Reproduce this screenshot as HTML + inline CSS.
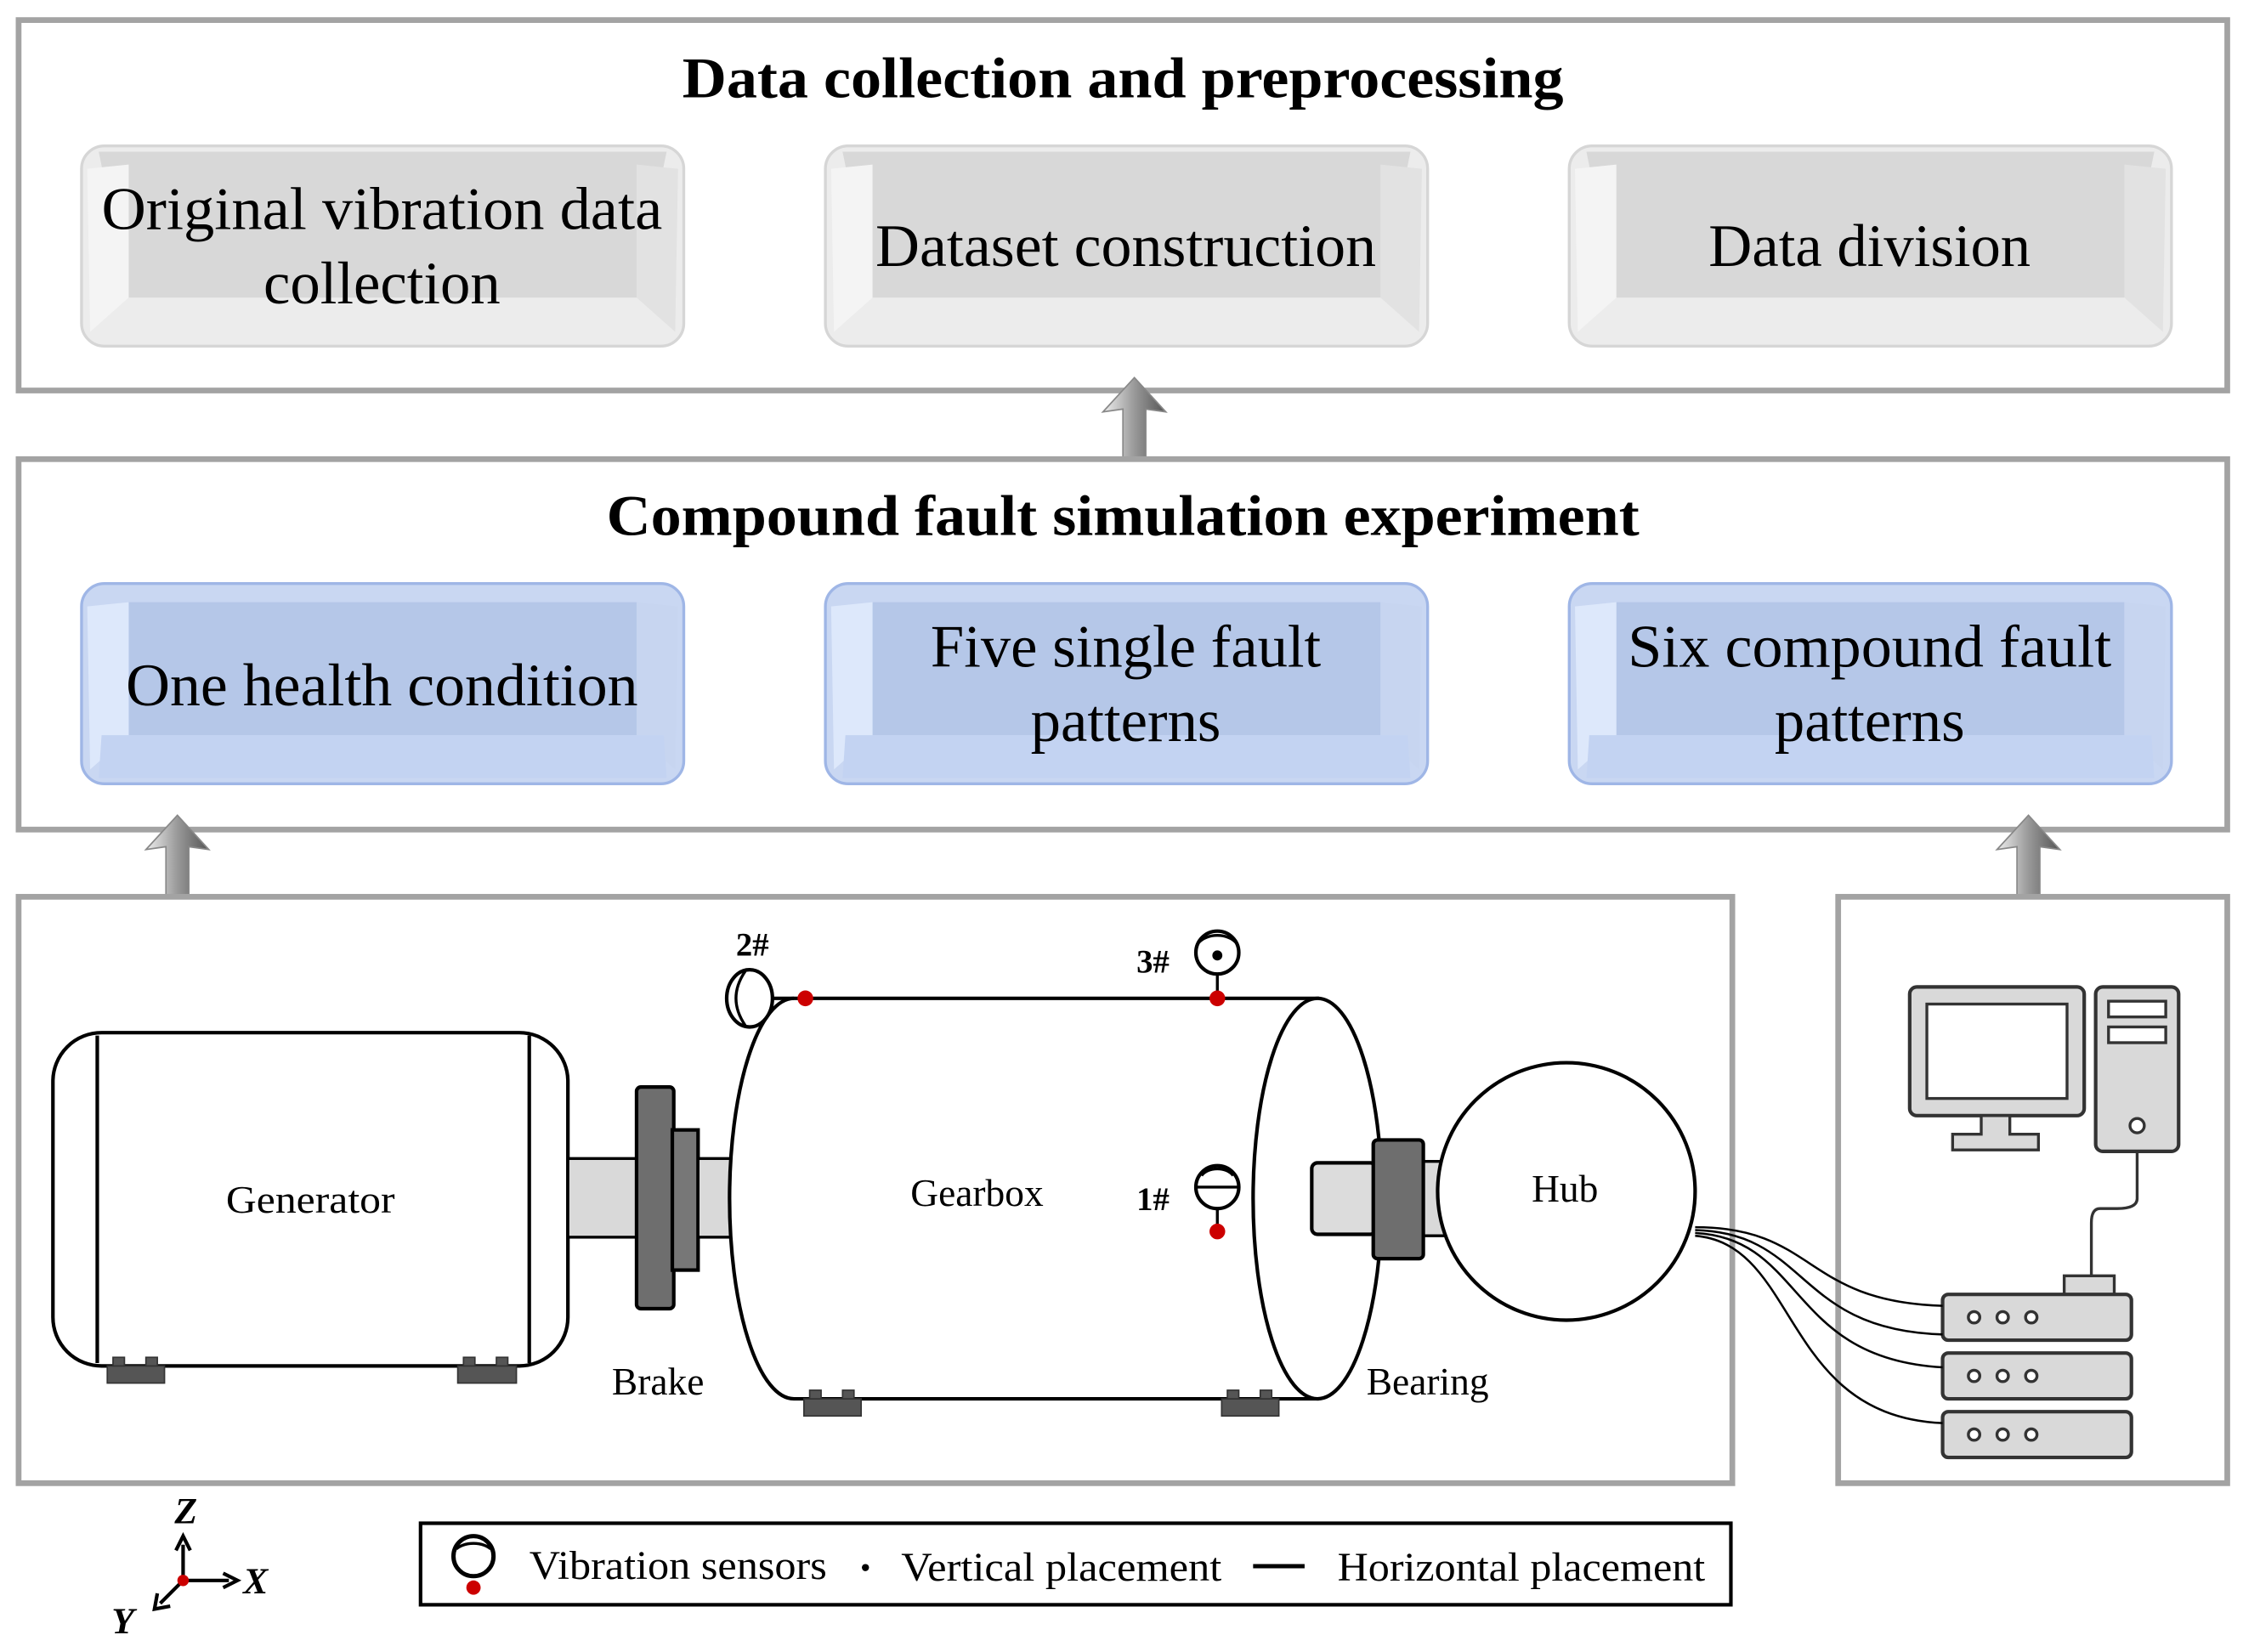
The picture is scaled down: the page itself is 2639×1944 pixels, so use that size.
<!DOCTYPE html>
<html><head><meta charset="utf-8"><style>html,body{margin:0;padding:0;background:#fff}svg{display:block}</style></head><body>
<svg width="2639" height="1944" viewBox="0 0 1568 1155" xmlns="http://www.w3.org/2000/svg" font-family="Liberation Serif, serif">
<defs>
<linearGradient id="ag" x1="0" x2="1"><stop offset="0" stop-color="#eee"/><stop offset="0.5" stop-color="#999"/><stop offset="1" stop-color="#555"/></linearGradient>
<g id="arr"><path d="M0,-32 L22,-8 L8,-10 L8,30 L-8,30 L-8,-10 L-22,-8 Z" fill="url(#ag)" stroke="#888" stroke-width="1"/></g>
<g id="gbox"><rect x="0" y="0" width="421" height="140" rx="16" fill="#ececec" stroke="#d6d6d6" stroke-width="2"/><path d="M12,4 L409,4 L388,106 L33,106 Z" fill="#d8d8d8"/><path d="M4,16 L33,13 L33,106 L6,130 Z" fill="#f4f4f4"/><path d="M417,16 L388,13 L388,106 L415,130 Z" fill="#e2e2e2"/><rect x="33" y="13" width="355" height="93" fill="#d8d8d8"/></g>
<g id="bbox"><rect x="0" y="0" width="421" height="140" rx="16" fill="#c9d7f2" stroke="#9fb6e6" stroke-width="2"/><path d="M4,16 L33,13 L33,106 L6,130 Z" fill="#dde8fb"/><path d="M417,16 L388,13 L388,106 L415,130 Z" fill="#c7d5f0"/><rect x="33" y="13" width="355" height="93" fill="#b5c7e8"/><path d="M14,106 L407,106 L409,136 L12,136 Z" fill="#c3d3f2"/></g>
</defs>
<rect x="13" y="14" width="1544" height="259" fill="#fff" stroke="#a3a3a3" stroke-width="4"/>
<text x="785" y="68" font-size="40" font-weight="bold" text-anchor="middle" textLength="616" lengthAdjust="spacingAndGlyphs">Data collection and preprocessing</text>
<use href="#gbox" x="57" y="102"/><use href="#gbox" x="577" y="102"/><use href="#gbox" x="1097" y="102"/>
<g font-size="42" text-anchor="middle">
<text x="267" y="160" textLength="392" lengthAdjust="spacingAndGlyphs">Original vibration data</text>
<text x="267" y="212">collection</text>
<text x="787" y="186" textLength="350" lengthAdjust="spacingAndGlyphs">Dataset construction</text>
<text x="1307" y="186">Data division</text>
</g>
<use href="#arr" x="793" y="296"/>
<rect x="13" y="321" width="1544" height="259" fill="#fff" stroke="#a3a3a3" stroke-width="4"/>
<text x="785" y="374" font-size="40" font-weight="bold" text-anchor="middle" textLength="722" lengthAdjust="spacingAndGlyphs">Compound fault simulation experiment</text>
<use href="#bbox" x="57" y="408"/><use href="#bbox" x="577" y="408"/><use href="#bbox" x="1097" y="408"/>
<g font-size="42" text-anchor="middle">
<text x="267" y="493" textLength="358" lengthAdjust="spacingAndGlyphs">One health condition</text>
<text x="787" y="466">Five single fault</text>
<text x="787" y="518">patterns</text>
<text x="1307" y="466" textLength="338" lengthAdjust="spacingAndGlyphs">Six compound fault</text>
<text x="1307" y="518">patterns</text>
</g>
<use href="#arr" x="124" y="602"/><use href="#arr" x="1418" y="602"/>
<rect x="13" y="627" width="1198" height="410" fill="#fff" stroke="#a3a3a3" stroke-width="4"/>
<rect x="1285" y="627" width="272" height="410" fill="#fff" stroke="#a3a3a3" stroke-width="4"/>
<rect x="37" y="722" width="360" height="233" rx="34" fill="#fff" stroke="#000" stroke-width="2.5"/>
<line x1="68" y1="724" x2="68" y2="953" stroke="#000" stroke-width="2.5"/><line x1="370" y1="724" x2="370" y2="953" stroke="#000" stroke-width="2.5"/>
<g fill="#555" stroke="#333"><rect x="75" y="955" width="40" height="12"/><rect x="79" y="949" width="8" height="6"/><rect x="102" y="949" width="8" height="6"/><rect x="320" y="955" width="41" height="12"/><rect x="324" y="949" width="8" height="6"/><rect x="347" y="949" width="8" height="6"/></g>
<text x="217" y="848" font-size="27" text-anchor="middle" textLength="118" lengthAdjust="spacingAndGlyphs">Generator</text>
<rect x="397" y="810" width="50" height="55" fill="#d9d9d9" stroke="#000" stroke-width="2"/>
<rect x="445" y="760" width="26" height="155" rx="3" fill="#6e6e6e" stroke="#000" stroke-width="2.5"/>
<rect x="470" y="790" width="18" height="98" fill="#777" stroke="#000" stroke-width="2.5"/>
<rect x="488" y="810" width="26" height="55" fill="#d9d9d9" stroke="#000" stroke-width="2"/>
<text x="460" y="975" font-size="27" text-anchor="middle">Brake</text>
<rect x="995" y="812" width="18" height="52" fill="#d9d9d9" stroke="#000" stroke-width="2"/>
<path d="M555,698 L921,698 L921,978 L555,978 A45,140 0 0 1 555,698 Z" fill="#fff" stroke="#000" stroke-width="2.5"/>
<ellipse cx="921" cy="838" rx="45" ry="140" fill="#fff" stroke="#000" stroke-width="2.5"/>
<rect x="917" y="813" width="45" height="50" rx="4" fill="#dcdcdc" stroke="#000" stroke-width="2.5"/>
<rect x="960" y="797" width="35" height="83" rx="3" fill="#6e6e6e" stroke="#000" stroke-width="2.5"/>
<g fill="#555" stroke="#333"><rect x="562" y="978" width="40" height="12"/><rect x="566" y="972" width="8" height="6"/><rect x="589" y="972" width="8" height="6"/><rect x="854" y="978" width="40" height="12"/><rect x="858" y="972" width="8" height="6"/><rect x="881" y="972" width="8" height="6"/></g>
<text x="683" y="843" font-size="27" text-anchor="middle">Gearbox</text>
<text x="998" y="975" font-size="27" text-anchor="middle">Bearing</text>
<circle cx="1095" cy="833" r="90" fill="#fff" stroke="#000" stroke-width="2.5"/>
<text x="1094" y="840" font-size="27" text-anchor="middle">Hub</text>
<line x1="540" y1="698" x2="555" y2="698" stroke="#000" stroke-width="2.5"/>
<ellipse cx="524" cy="698" rx="16" ry="20" fill="#fff" stroke="#000" stroke-width="2.5"/>
<path d="M521,679 Q508,698 521,717" fill="none" stroke="#000" stroke-width="2"/>
<circle cx="563" cy="698" r="5.5" fill="#c00"/>
<circle cx="851" cy="666" r="15" fill="#fff" stroke="#000" stroke-width="2.5"/>
<path d="M838,659 A15,10 0 0 1 864,659" fill="none" stroke="#000" stroke-width="2"/>
<circle cx="851" cy="668" r="3.5"/>
<line x1="851" y1="681" x2="851" y2="698" stroke="#000" stroke-width="2"/>
<circle cx="851" cy="698" r="5.5" fill="#c00"/>
<circle cx="851" cy="830" r="15" fill="#fff" stroke="#000" stroke-width="2.5"/>
<line x1="836" y1="830" x2="866" y2="830" stroke="#000" stroke-width="2"/>
<path d="M840,822 A12,8 0 0 1 862,822" fill="none" stroke="#000" stroke-width="2"/>
<line x1="851" y1="845" x2="851" y2="860" stroke="#000" stroke-width="2"/>
<circle cx="851" cy="861" r="5.5" fill="#c00"/>
<g font-size="23" font-weight="bold" text-anchor="middle"><text x="526" y="668">2#</text><text x="806" y="680">3#</text><text x="806" y="846">1#</text></g>
<rect x="1335" y="690" width="122" height="90" rx="5" fill="#d9d9d9" stroke="#333" stroke-width="2.5"/>
<rect x="1347" y="702" width="98" height="66" fill="#fff" stroke="#333" stroke-width="2"/>
<path d="M1385,780 L1405,780 L1405,793 L1425,793 L1425,804 L1365,804 L1365,793 L1385,793 Z" fill="#d9d9d9" stroke="#333" stroke-width="2"/>
<rect x="1465" y="690" width="58" height="115" rx="5" fill="#d9d9d9" stroke="#333" stroke-width="2.5"/>
<rect x="1474" y="700" width="40" height="11" fill="#fff" stroke="#333" stroke-width="2"/>
<rect x="1474" y="718" width="40" height="11" fill="#fff" stroke="#333" stroke-width="2"/>
<circle cx="1494" cy="787" r="5" fill="#fff" stroke="#333" stroke-width="2"/>
<path d="M1494,805 L1494,838 Q1494,845 1480,845 L1468,845 Q1462,845 1462,855 L1462,892" fill="none" stroke="#333" stroke-width="2"/>
<rect x="1443" y="892" width="35" height="13" fill="#d9d9d9" stroke="#333" stroke-width="2"/>
<g fill="#d9d9d9" stroke="#333" stroke-width="2.5">
<rect x="1358" y="905" width="132" height="32" rx="4"/><rect x="1358" y="946" width="132" height="32" rx="4"/><rect x="1358" y="987" width="132" height="32" rx="4"/></g>
<g fill="#fff" stroke="#333" stroke-width="2"><circle cx="1380" cy="921" r="4"/><circle cx="1400" cy="921" r="4"/><circle cx="1420" cy="921" r="4"/><circle cx="1380" cy="962" r="4"/><circle cx="1400" cy="962" r="4"/><circle cx="1420" cy="962" r="4"/><circle cx="1380" cy="1003" r="4"/><circle cx="1400" cy="1003" r="4"/><circle cx="1420" cy="1003" r="4"/></g>
<g fill="none" stroke="#000" stroke-width="1.5">
<path d="M1185,858 C1270,858 1260,910 1358,913"/>
<path d="M1185,860 C1265,862 1255,930 1358,933"/>
<path d="M1185,862 C1262,866 1250,950 1358,956"/>
<path d="M1185,864 C1258,870 1245,990 1358,995"/>
</g>
<rect x="294" y="1065" width="916" height="57" fill="#fff" stroke="#000" stroke-width="2.5"/>
<circle cx="331" cy="1088" r="14" fill="#fff" stroke="#000" stroke-width="3"/>
<path d="M319,1083 A14,8 0 0 1 343,1083" fill="none" stroke="#000" stroke-width="2"/>
<circle cx="331" cy="1110" r="5" fill="#c00"/>
<g font-size="28"><text x="370" y="1104" textLength="208" lengthAdjust="spacingAndGlyphs">Vibration sensors</text><text x="630" y="1105" textLength="224" lengthAdjust="spacingAndGlyphs">Vertical placement</text><text x="935" y="1105" textLength="257" lengthAdjust="spacingAndGlyphs">Horizontal placement</text></g>
<circle cx="605" cy="1096" r="2.5"/>
<line x1="876" y1="1095" x2="912" y2="1095" stroke="#000" stroke-width="3"/>
<g stroke="#000" stroke-width="2.5" fill="none">
<line x1="128" y1="1105" x2="128" y2="1080"/><path d="M123,1084 L128,1074 L133,1084"/>
<line x1="128" y1="1105" x2="160" y2="1105"/><path d="M156,1100 L166,1105 L156,1110"/>
<line x1="128" y1="1105" x2="112" y2="1121"/><path d="M110,1114 L108,1125 L119,1123"/>
</g>
<circle cx="128" cy="1105" r="4" fill="#c00"/>
<g font-size="26" font-style="italic" font-weight="bold"><text x="122" y="1065">Z</text><text x="170" y="1114">X</text><text x="78" y="1142">Y</text></g>
</svg>
</body></html>
